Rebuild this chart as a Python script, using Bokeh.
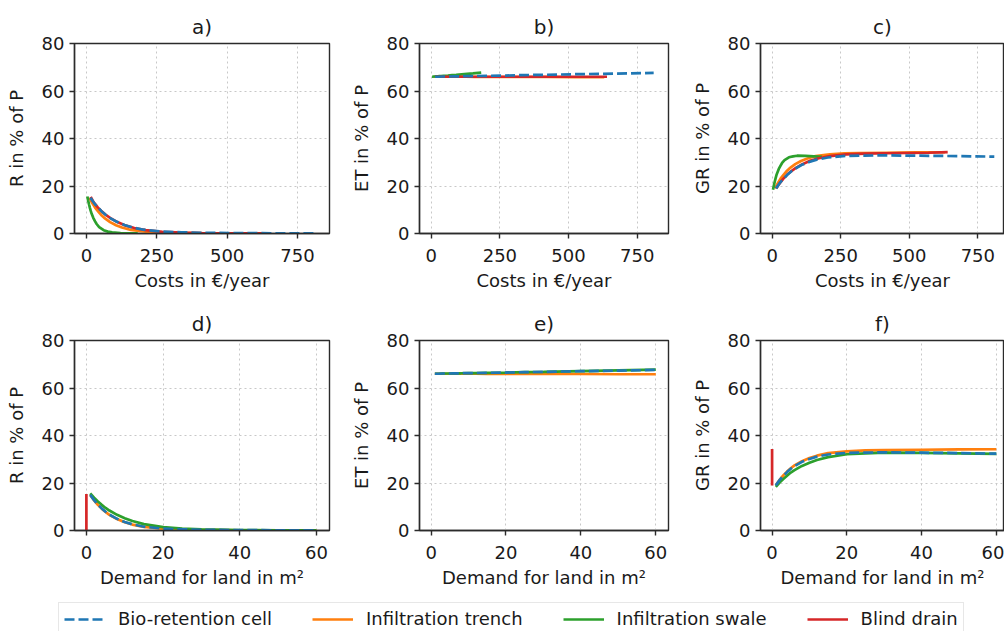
from bokeh.plotting import figure
from bokeh.layouts import column, row
from bokeh.models import Range1d, FixedTicker, Legend, LegendItem
from bokeh.embed import file_html
from bokeh.resources import INLINE

FONT = "DejaVu Sans"
TXT = "#1a1a1a"
SPINE = "#2b2b2b"

cost_ticks = [0, 250, 500, 750]
land_ticks = [0, 20, 40, 60]
y_ticks = [0, 20, 40, 60, 80]

names = ["Bio-retention cell", "Infiltration trench", "Infiltration swale", "Blind drain"]
colors = ["#1f77b4", "#ff7f0e", "#2ca02c", "#d62728"]
dashes = ["10 4", "solid", "solid", "solid"]

# Bio-retention cell
bio_land = [1, 2, 3, 4, 5, 6, 8, 10, 12, 15, 20, 25, 30, 40, 50, 60]
bio_cost = [14, 27, 41, 54, 68, 81, 108, 135, 162, 203, 270, 338, 405, 540, 675, 810]
bio_R = [15.0, 12.8, 10.9, 9.3, 7.9, 6.7, 4.9, 3.6, 2.6, 1.6, 0.8, 0.5, 0.3, 0.15, 0.1, 0.05]
bio_ET = [66.0, 66.0, 66.1, 66.1, 66.1, 66.2, 66.2, 66.3, 66.3, 66.4, 66.5, 66.7, 66.8, 67.1, 67.3, 67.6]
bio_GR = [19.0, 21.2, 23.0, 24.6, 26.0, 27.1, 28.9, 30.1, 31.1, 32.0, 32.7, 32.8, 32.9, 32.75, 32.6, 32.35]

# Infiltration trench
tr_land = [1, 2, 3, 4, 5, 6, 8, 10, 12, 15, 20, 25, 30, 40, 50, 60]
tr_cost = [10, 21, 31, 42, 52, 63, 84, 105, 126, 158, 210, 263, 315, 420, 525, 630]
tr_R = [15.0, 12.7, 10.8, 9.2, 7.8, 6.6, 4.8, 3.5, 2.5, 1.5, 0.8, 0.4, 0.25, 0.1, 0.05, 0.02]
tr_ET = [66.0, 66.0, 66.0, 66.0, 66.0, 66.0, 66.0, 66.0, 66.0, 65.9, 65.9, 65.9, 65.9, 65.9, 65.8, 65.8]
tr_GR = [19.0, 21.3, 23.2, 24.8, 26.2, 27.4, 29.2, 30.5, 31.5, 32.6, 33.3, 33.7, 33.85, 34.0, 34.15, 34.2]

# Infiltration swale
sw_land = [1, 2, 3, 4, 5, 6, 8, 10, 12, 15, 20, 25, 30, 40, 50, 60]
sw_cost = [3, 6, 9, 12, 15, 18, 24, 30, 36, 45, 61, 76, 91, 121, 152, 182]
sw_R = [15.6, 13.8, 12.2, 10.8, 9.5, 8.4, 6.6, 5.2, 4.0, 2.7, 1.4, 0.8, 0.45, 0.2, 0.1, 0.05]
sw_ET = [66.0, 66.0, 66.1, 66.1, 66.1, 66.2, 66.2, 66.3, 66.3, 66.4, 66.5, 66.7, 66.8, 67.1, 67.4, 67.7]
sw_GR = [18.4, 20.2, 21.7, 23.1, 24.4, 25.4, 27.2, 28.5, 29.7, 30.9, 32.1, 32.5, 32.75, 32.7, 32.5, 32.25]

# Blind drain
bd_land = [0, 0, 0, 0, 0, 0, 0, 0, 0, 0, 0, 0, 0, 0, 0, 0]
bd_cost = [15, 25, 40, 55, 70, 85, 110, 140, 170, 210, 270, 340, 410, 500, 570, 640]
bd_R = [15.4, 13.2, 11.0, 9.2, 7.7, 6.5, 4.8, 3.3, 2.3, 1.4, 0.7, 0.35, 0.2, 0.1, 0.05, 0.02]
bd_ET = [66.0, 66.0, 66.0, 66.0, 66.0, 66.0, 66.0, 66.0, 66.0, 66.0, 66.0, 66.0, 66.0, 66.0, 66.0, 66.0]
bd_GR = [19.0, 20.8, 23.0, 24.8, 26.3, 27.5, 29.2, 30.7, 31.7, 32.6, 33.3, 33.65, 33.8, 33.9, 34.0, 34.3]

series = {
    0: dict(land=bio_land, cost=bio_cost, R=bio_R, ET=bio_ET, GR=bio_GR),
    1: dict(land=tr_land, cost=tr_cost, R=tr_R, ET=tr_ET, GR=tr_GR),
    2: dict(land=sw_land, cost=sw_cost, R=sw_R, ET=sw_ET, GR=sw_GR),
    3: dict(land=bd_land, cost=bd_cost, R=bd_R, ET=bd_ET, GR=bd_GR),
}
draw_order = [1, 2, 3, 0]


def style_axis(ax, label, label_standoff, tick_standoff):
    ax.axis_label = label
    ax.axis_label_text_font = FONT
    ax.axis_label_text_font_size = "18px"
    ax.axis_label_text_font_style = "normal"
    ax.axis_label_text_color = TXT
    ax.axis_label_standoff = label_standoff
    ax.major_label_text_font = FONT
    ax.major_label_text_font_size = "18px"
    ax.major_label_text_color = TXT
    ax.major_label_standoff = tick_standoff
    ax.major_tick_out = 5
    ax.major_tick_in = 0
    ax.major_tick_line_color = SPINE
    ax.major_tick_line_width = 1.4
    ax.minor_tick_line_color = None
    ax.axis_line_color = SPINE
    ax.axis_line_width = 1.4


def panel(title, xkey, ykey, ylabel, xlabel, xr, xticks, width, b_left, b_right, height, b_top, b_bottom):
    p = figure(width=width, height=height, x_range=Range1d(*xr), y_range=Range1d(0, 80),
               toolbar_location=None, output_backend="svg", title=title,
               min_border_left=b_left, min_border_right=b_right,
               min_border_top=b_top, min_border_bottom=b_bottom)
    p.title.align = "center"
    p.title.text_font = FONT
    p.title.text_font_size = "20px"
    p.title.text_font_style = "normal"
    p.title.text_color = TXT
    p.title.standoff = 10
    p.xaxis.ticker = FixedTicker(ticks=xticks)
    p.yaxis.ticker = FixedTicker(ticks=y_ticks)
    style_axis(p.xaxis[0], xlabel, 5, 10)
    style_axis(p.yaxis[0], ylabel, 12, 5)
    p.grid.grid_line_color = "#c8c8c8"
    p.grid.grid_line_dash = "2 3"
    p.grid.grid_line_width = 1
    p.outline_line_color = SPINE
    p.outline_line_width = 1.4
    p.outline_line_alpha = 1
    for i in draw_order:
        s = series[i]
        p.line(s[xkey], s[ykey], line_color=colors[i], line_width=2.7, line_dash=dashes[i])
    return p


cost_lbl = "Costs in €/year"
land_lbl = "Demand for land in m²"

W = [347, 341, 316]
BL = [74, 66, 66]
BR = [18, 20, 0]
XR_cost = [(-42.7, 864), (-42.7, 864), (-42.7, 847.2)]
XR_land = [(-3.1, 63.4), (-3.1, 63.4), (-3.1, 62.2)]

top = []
for c, (t, k, yl) in enumerate([("a)", "R", "R in % of P"), ("b)", "ET", "ET in % of P"), ("c)", "GR", "GR in % of P")]):
    top.append(panel(t, "cost", k, yl, cost_lbl, XR_cost[c], cost_ticks, W[c], BL[c], BR[c], 296, 43, 63))
bot = []
for c, (t, k, yl) in enumerate([("d)", "R", "R in % of P"), ("e)", "ET", "ET in % of P"), ("f)", "GR", "GR in % of P")]):
    bot.append(panel(t, "land", k, yl, land_lbl, XR_land[c], land_ticks, W[c], BL[c], BR[c], 302, 44, 68))

leg = figure(width=1004, height=33, x_range=Range1d(0, 1), y_range=Range1d(0, 1),
             toolbar_location=None, output_backend="svg", min_border=0,
             x_axis_location=None, y_axis_location=None)
leg.outline_line_color = None
leg.grid.visible = False
items = []
for i in range(4):
    r = leg.line(x=[5, 6], y=[5, 6], line_color=colors[i], line_width=2.7, line_dash=dashes[i])
    items.append(LegendItem(label=names[i], renderers=[r]))
legend = Legend(items=items, orientation="horizontal", location=(58, -4),
                padding=5, margin=0, spacing=40, glyph_width=41, glyph_height=20,
                label_standoff=13, label_height=20,
                label_text_font=FONT, label_text_font_size="18px", label_text_color=TXT,
                border_line_color="#cfcfcf", border_line_width=1,
                background_fill_color="white", background_fill_alpha=1)
leg.add_layout(legend, "center")

layout = column(row(*top), row(*bot), leg)
open("out.html", "w").write(file_html(layout, INLINE))
